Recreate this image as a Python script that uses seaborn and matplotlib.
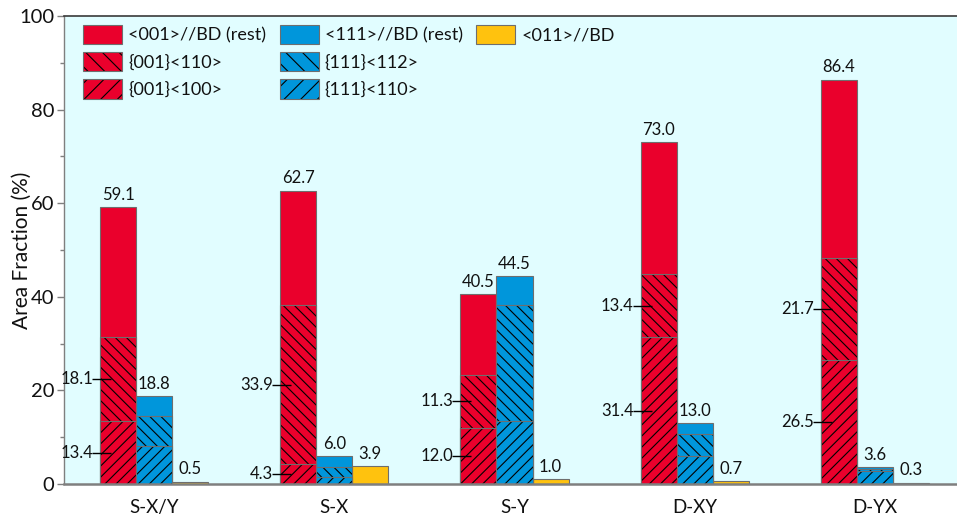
import matplotlib
matplotlib.use("Agg")
import matplotlib.pyplot as plt
import matplotlib.patches as mpatches
import matplotlib.colors as mcolors
from matplotlib.ticker import MultipleLocator
import numpy as np
import pandas as pd
import seaborn as sns

# ---- data (area fraction, %) ----
samples = ["S-X/Y", "S-X", "S-Y", "D-XY", "D-YX"]
# <001>//BD family: bottom {001}<100>, middle {001}<110>, total height
c001_100 = [13.4, 4.3, 12.0, 31.4, 26.5]
c001_110 = [18.1, 33.9, 11.3, 13.4, 21.7]
c001_total = [59.1, 62.7, 40.5, 73.0, 86.4]
# <111>//BD family: bottom {111}<110>, middle {111}<112>, total height
c111_110 = [8.2, 1.6, 13.5, 6.0, 2.7]
c111_112 = [6.4, 2.0, 24.8, 4.7, 0.5]
c111_total = [18.8, 6.0, 44.5, 13.0, 3.6]
# <011>//BD
c011_total = [0.5, 3.9, 1.0, 0.7, 0.3]

families = ["<001>", "<111>", "<011>"]
colors = {"<001>": "#EA002C", "<111>": "#0096DB", "<011>": "#FFC20E"}

sns.set_theme(style="white")
plt.rcParams["font.family"] = ["Lato", "DejaVu Sans"]
plt.rcParams["hatch.linewidth"] = 0.8

fig = plt.figure(figsize=(9.57, 5.17), dpi=100)
ax = fig.add_axes([64 / 957, 1 - 484 / 517, 901 / 957, 468 / 517])
ax.set_facecolor("#E1FDFF")

# stacked layers drawn from the tallest cumulative height down
lower_001 = list(np.add(c001_100, c001_110))
lower_111 = list(np.add(c111_110, c111_112))
layers = [
    ({"<001>": c001_total, "<111>": c111_total, "<011>": c011_total}, None),
    ({"<001>": lower_001, "<111>": lower_111}, "\\" * 3),
    ({"<001>": c001_100, "<111>": c111_110}, "/" * 3),
]

black = mcolors.to_rgba("black")
for heights, hatch in layers:
    rows = []
    for fam, vals in heights.items():
        for s, v in zip(samples, vals):
            rows.append({"sample": s, "family": fam, "height": v})
    df = pd.DataFrame(rows)
    n_before = len(ax.containers)
    sns.barplot(data=df, x="sample", y="height", hue="family",
                hue_order=families, order=samples, palette=colors,
                dodge=True, width=0.6, saturation=1, errorbar=None,
                edgecolor="#6E6E6E", linewidth=0.8, legend=False, ax=ax)
    if hatch:
        for cont in ax.containers[n_before:]:
            for p in cont.patches:
                p.set_hatch(hatch)
                p._hatch_color = black

ax.set_xlim(-0.5, 4.5)
ax.set_ylim(0, 100)
ax.yaxis.set_major_locator(MultipleLocator(20))
ax.yaxis.set_minor_locator(MultipleLocator(10))
ax.tick_params(axis="y", which="major", direction="out", length=5, width=1,
               color="#7F7F7F", left=True, labelsize=14.5, pad=2, labelcolor="#111111")
ax.tick_params(axis="y", which="minor", direction="out", length=3, width=1,
               color="#7F7F7F", left=True)
ax.tick_params(axis="x", length=0, labelsize=13.5, pad=11, labelcolor="#111111")
ax.set_xlabel("")
ax.set_ylabel("Area Fraction (%)", fontsize=15, color="#111111")
ax.yaxis.set_label_coords(-0.036, 0.5)

for side in ["left", "bottom"]:
    ax.spines[side].set_color("#7F7F7F")
ax.spines["left"].set_linewidth(1.0)
ax.spines["bottom"].set_linewidth(1.8)
ax.spines["top"].set_color("#3A3A3A")
ax.spines["top"].set_linewidth(1.2)
ax.spines["right"].set_visible(False)

# value labels
px = 1 / 180.25
lab_kw = dict(fontsize=12, color="#111111")
for i in range(len(samples)):
    for off, tot in zip((-0.2, 0.0, 0.2), (c001_total[i], c111_total[i], c011_total[i])):
        ax.annotate(f"{tot:.1f}", (i + off, tot), xytext=(0, 3),
                    textcoords="offset points", ha="center", va="bottom", **lab_kw)
    left = i - 0.3
    for yc, val in ((c001_100[i] / 2, c001_100[i]),
                    (c001_100[i] + c001_110[i] / 2, c001_110[i])):
        ax.plot([left - 8 * px, left + 11 * px], [yc, yc], color="black", lw=1.0,
                solid_capstyle="butt", zorder=5)
        ax.text(left - 7 * px, yc, f"{val:.1f}", ha="right", va="center", **lab_kw)

# legend
def patch(fc, hatch=None):
    p = mpatches.Patch(facecolor=fc, edgecolor="#6E6E6E", linewidth=0.8, hatch=hatch)
    p._hatch_color = black
    return p

blank = mpatches.Patch(facecolor="none", edgecolor="none")
handles = [patch(colors["<001>"]), patch(colors["<001>"], "\\\\"), patch(colors["<001>"], "//"),
           patch(colors["<111>"]), patch(colors["<111>"], "\\\\"), patch(colors["<111>"], "//"),
           patch(colors["<011>"]), blank, blank]
labels = ["<001>//BD (rest)", "{001}<110>", "{001}<100>",
          "<111>//BD (rest)", "{111}<112>", "{111}<110>",
          "<011>//BD", "", ""]
ax.legend(handles, labels, ncol=3, loc="upper left", frameon=False,
          bbox_to_anchor=(83 / 957, 1 - 25 / 517), bbox_transform=fig.transFigure,
          borderpad=0, borderaxespad=0, fontsize=13, handlelength=2.15,
          handleheight=1.25, handletextpad=0.35, labelspacing=0.45, columnspacing=0.75,
          labelcolor="#111111")

fig.savefig("out.png", dpi=100)
